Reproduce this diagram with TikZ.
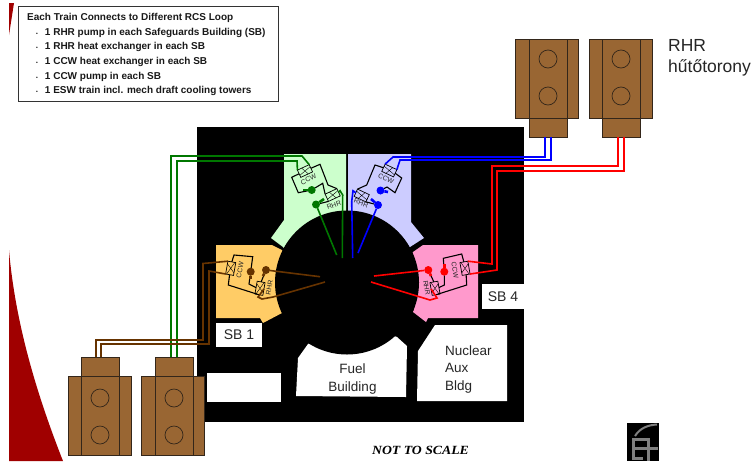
\documentclass[tikz,border=0pt]{standalone}
\usepackage{fontspec}
\setmainfont{Liberation Sans}
\newfontfamily\scalefont{Liberation Serif}
\definecolor{towerbrown}{HTML}{996633}
\definecolor{towerline}{HTML}{33261A}
\definecolor{sbgreen}{HTML}{CCFFCC}
\definecolor{sbblue}{HTML}{CCCCFF}
\definecolor{sborange}{HTML}{FFCC66}
\definecolor{sbpink}{HTML}{FF99CC}
\definecolor{pipegreen}{HTML}{007700}
\definecolor{pipebrown}{HTML}{663300}
\definecolor{stripe}{HTML}{A00000}
\definecolor{logogrey}{HTML}{808080}
\tikzset{
  towerbody/.style={draw=towerline,fill=towerbrown,line width=0.8pt,minimum width=63pt,minimum height=79pt,inner sep=0pt,outer sep=0pt},
  towercore/.style={draw=towerline,fill=towerbrown,line width=0.8pt,minimum width=38pt,minimum height=79pt,inner sep=0pt,outer sep=0pt},
  towerneck/.style={draw=towerline,fill=towerbrown,line width=0.8pt,minimum width=38pt,minimum height=19pt,inner sep=0pt,outer sep=0pt},
  fan/.style={circle,draw=towerline,line width=0.7pt,minimum size=18pt,inner sep=0pt},
  hx/.style={draw=black,line width=0.7pt,minimum width=13pt,minimum height=8pt,inner sep=0pt,outer sep=0pt,
    path picture={\draw[line width=0.4pt] (path picture bounding box.south west) -- (path picture bounding box.north east)
      (path picture bounding box.north west) -- (path picture bounding box.south east);}},
  pump/.style={circle,minimum size=8pt,inner sep=0pt,outer sep=0pt},
  loopline/.style={draw=black,line width=1.1pt},
  pipe/.style={line width=1.6pt},
  tail/.style={line width=2.6pt},
  tag/.style={font=\fontsize{6.8}{7}\selectfont,text=black!85,inner sep=0pt},
  whitelabel/.style={fill=white,inner sep=0pt,text=black!85,font=\fontsize{14}{16}\selectfont},
  buildingtext/.style={inner sep=0pt,text=black!85,font=\fontsize{13.5}{17.5}\selectfont},
}
\begin{document}
\begin{tikzpicture}[x=1pt,y=-1pt]
\useasboundingbox (0,0) rectangle (754,461);
\fill[white] (0,0) rectangle (754,461);
% red corner of the slide
\fill[stripe] (9,3) -- (14,3) -- (9,35) -- cycle;
\fill[stripe] (9,250) .. controls (15,320) and (35,390) .. (63,461) -- (9,461) -- cycle;
% site, buildings, and the containment on top of them
\fill[black] (197,127) rectangle (524,422);
\fill[sbgreen] (284,154) -- (346,154) -- (346,240) -- (290,255) -- (283,247) -- (271,238) -- (284,220) -- cycle;
\fill[sbblue] (348,154) -- (411,154) -- (411,222) -- (424,238) -- (410,247) -- (405,255) -- (348,240) -- cycle;
\fill[sborange] (216,245) -- (272,245) -- (282,250) -- (295,270) -- (295,290) -- (277,298) -- (282,313) -- (263,323) -- (260,318) -- (216,318) -- cycle;
\fill[sbpink] (413,252) -- (423,245) -- (478,245) -- (478,318) -- (428,318) -- (426,322) -- (413,312) -- (417,298) -- (400,290) -- (400,270) -- cycle;
\fill[white] (308,344) -- (298,358) -- (296,396) -- (406,397) -- (407,346) -- (397,337) -- (350,320) -- cycle;
\fill[black] (347,282.5) circle (72pt);
\fill[white] (435,325) -- (507,325) -- (507,401) -- (417,401) -- (418,351) -- cycle;
\node[whitelabel,minimum width=46pt,minimum height=24pt] (sbone) at (239,335) {SB 1};
\node[whitelabel,minimum width=42pt,minimum height=25pt] (sbfour) at (503,296.5) {SB 4};
\node[fill=white,minimum width=74pt,minimum height=29pt,inner sep=0pt] (blank) at (244,387.5) {};
\node[buildingtext,align=center] (fuel) at (352.5,379) {Fuel\\Building};
\node[buildingtext,align=left,anchor=west] (nuclear) at (445,369.5) {Nuclear\\Aux\\Bldg};
% cooling towers
\node[towerbody] (bodyA) at (99.5,415.5) {};
\node[towercore] (coreA) at (100.5,415.5) {};
\node[towerneck] (neckA) at (100.5,366.5) {};
\node[fan] (fanAa) at (100,398) {};
\node[fan] (fanAb) at (100,435) {};
\node[towerbody] (bodyB) at (173,415.5) {};
\node[towercore] (coreB) at (174,415.5) {};
\node[towerneck] (neckB) at (174,366.5) {};
\node[fan] (fanBa) at (174,398) {};
\node[fan] (fanBb) at (174,435) {};
\node[towerbody] (bodyC) at (547,78.5) {};
\node[towercore] (coreC) at (548,78.5) {};
\node[towerneck] (neckC) at (548,127.5) {};
\node[fan] (fanCa) at (548,59) {};
\node[fan] (fanCb) at (548,96) {};
\node[towerbody] (bodyD) at (620.5,78.5) {};
\node[towercore] (coreD) at (621,78.5) {};
\node[towerneck] (neckD) at (621,127.5) {};
\node[fan] (fanDa) at (621,59) {};
\node[fan] (fanDb) at (621,96) {};
% free ends of the pipes inside the containment
\coordinate (endGa) at (336.7,255);
\coordinate (endGb) at (342.3,258);
\coordinate (endUa) at (358,253);
\coordinate (endUb) at (352.7,258);
\coordinate (endBa) at (320,276.7);
\coordinate (endBb) at (325,282);
\coordinate (endRa) at (374,276);
\coordinate (endRb) at (371,282);
% green train
\node[hx,rotate=25] (ccwG) at (305,171) {};
\node[hx,rotate=25] (rhrG) at (332.7,195) {};
\node[pump,fill=pipegreen] (pumpGa) at (311.7,190) {};
\node[pump,fill=pipegreen] (pumpGb) at (316,204.5) {};
\node[tag,rotate=25] (ccwtextG) at (308.5,179.5) {CCW};
\node[tag,rotate=20] (rhrtextG) at (334,205) {RHR};
\draw[loopline] (ccwG.west) -- (291.7,177.3) -- (298.3,192.7) -- (pumpGa);
\draw[loopline] (ccwG.east) -- (320,164.3) -- (328,185) -- (rhrG.north east);
\draw[loopline] (pumpGa) -- (322.7,183.3) -- (rhrG.north west);
\draw[loopline] (pumpGb) -- (rhrG.south west);
\draw[pipegreen,tail] (pumpGa) -- (303,190);
\draw[pipegreen,tail] (pumpGb) -- (324,199);
\draw[pipegreen,pipe] ([xshift=-3pt]neckB.north) -- (171,156) -- (302,156) -- (ccwG.north east);
\draw[pipegreen,pipe] ([xshift=3pt]neckB.north) -- (177,161) -- (297,161) -- (ccwG.north west);
\draw[pipegreen,pipe] (pumpGb) -- (endGa);
\draw[pipegreen,pipe] (rhrG.east) -- (340,190.7) -- (342.7,195) -- (endGb);
% blue train
\node[hx,rotate=-25] (ccwU) at (389.3,170.5) {};
\node[hx,rotate=-25] (rhrU) at (361.7,195.5) {};
\node[pump,fill=blue] (pumpUa) at (380.5,190.5) {};
\node[pump,fill=blue] (pumpUb) at (378,205) {};
\node[tag,rotate=-25] (ccwtextU) at (386,179) {CCW};
\node[tag,rotate=-20] (rhrtextU) at (361,203.3) {RHR};
\draw[loopline] (ccwU.west) -- (375,165) -- (366.7,185) -- (rhrU.north west);
\draw[loopline] (ccwU.east) -- (401.7,178) -- (395,192.7) -- (387,187) -- (pumpUa);
\draw[loopline] (pumpUb) -- (rhrU.south east);
\draw[blue,tail] (pumpUa) -- (388,192);
\draw[blue,tail] (pumpUb) -- (371,199);
\draw[blue,pipe] ([xshift=-3pt]neckC.south) -- (545,157) -- (393,157) -- (ccwU.north west);
\draw[blue,pipe] ([xshift=3pt]neckC.south) -- (551,160) -- (400,160) -- (ccwU.north east);
\draw[blue,pipe] (pumpUb) -- (endUa);
\draw[blue,pipe] (rhrU.west) -- (353,190.7) -- (351.7,201.7) -- (endUb);
% red train
\node[hx,rotate=-80] (ccwR) at (465,268.3) {};
\node[hx,rotate=-80] (rhrR) at (435,288.3) {};
\node[pump,fill=red] (pumpRa) at (444.3,271.7) {};
\node[pump,fill=red] (pumpRb) at (428.3,270) {};
\node[tag,rotate=-80] (ccwtextR) at (455,270) {CCW};
\node[tag,rotate=-80] (rhrtextR) at (426.7,288) {RHR};
\draw[loopline] (ccwR.west) -- (461.7,254) -- (443.3,258.3) -- (pumpRa);
\draw[loopline] (ccwR.east) -- (466.7,285) -- (rhrR.east);
\draw[loopline] (pumpRa) -- (444.3,285) -- (rhrR.north);
\draw[loopline] (pumpRb) -- (rhrR.west);
\draw[red,tail] (pumpRa) -- (444.3,264);
\draw[red,tail] (pumpRb) -- (431,276);
\draw[red,pipe] ([xshift=-3pt]neckD.south) -- (618,166) -- (492,166) -- (492,264) -- (ccwR.north west);
\draw[red,pipe] ([xshift=3pt]neckD.south) -- (624,171) -- (497,171) -- (497,270) -- (ccwR.north east);
\draw[red,pipe] (pumpRb) -- (endRa);
\draw[red,pipe] (rhrR.south) -- (437,298) -- (430,300) -- (endRb);
% brown train
\node[hx,rotate=80] (ccwB) at (230.7,268.3) {};
\node[hx,rotate=80] (rhrB) at (260,288.3) {};
\node[pump,fill=pipebrown] (pumpBa) at (250.7,271.7) {};
\node[pump,fill=pipebrown] (pumpBb) at (266,270) {};
\node[tag,rotate=80] (ccwtextB) at (240,270) {CCW};
\node[tag,rotate=80] (rhrtextB) at (269.3,288) {RHR};
\draw[loopline] (ccwB.east) -- (234,255) -- (252.7,256.7) -- (pumpBa);
\draw[loopline] (ccwB.west) -- (228.3,285) -- (rhrB.west);
\draw[loopline] (pumpBa) -- (249,284) -- (rhrB.north);
\draw[loopline] (pumpBb) -- (rhrB.east);
\draw[pipebrown,tail] (pumpBa) -- (250.7,279);
\draw[pipebrown,tail] (pumpBb) -- (263,276);
\draw[pipebrown,pipe] ([xshift=-4.5pt]neckA.north) -- (96,340) -- (203,340) -- (203,263.5) -- (ccwB.north east);
\draw[pipebrown,pipe] ([xshift=0.5pt]neckA.north) -- (101,344) -- (209,344) -- (209,271) -- (ccwB.north west);
\draw[pipebrown,pipe] (pumpBb) -- (endBa);
\draw[pipebrown,pipe] (rhrB.south) -- (258,297) -- (262,299) -- (273,297) -- (endBb);
% text
\node[draw=black!80,line width=0.9pt,fill=white,anchor=north west,inner sep=0pt,minimum width=260pt,minimum height=95pt] (legend) at (18,6) {};
\node[anchor=west,inner sep=0pt,align=left,font=\fontsize{10}{14.7}\selectfont\bfseries,text=black!90] (legendtext) at (27,54.5) {Each Train Connects to Different RCS Loop\\
  \hspace*{9pt}{\tiny\textbullet}\hspace{7pt}1 RHR pump in each Safeguards Building (SB)\\
  \hspace*{9pt}{\tiny\textbullet}\hspace{7pt}1 RHR heat exchanger in each SB\\
  \hspace*{9pt}{\tiny\textbullet}\hspace{7pt}1 CCW heat exchanger in each SB\\
  \hspace*{9pt}{\tiny\textbullet}\hspace{7pt}1 CCW pump in each SB\\
  \hspace*{9pt}{\tiny\textbullet}\hspace{7pt}1 ESW train incl. mech draft cooling towers};
\node[anchor=west,align=left,inner sep=0pt,text=black!85,font=\fontsize{17.5}{21}\selectfont] (towertext) at (668,57.5) {RHR\\hűtőtorony};
\node[inner sep=0pt,xscale=1.1,font=\scalefont\fontsize{12.5}{14}\selectfont\bfseries\itshape] (notscale) at (420.5,450) {NOT TO SCALE};
% logo
\fill[black] (627,423) rectangle (659,461);
\draw[logogrey,line width=2pt] (635,436) .. controls (640,428) and (648,425) .. (657,424.5);
\draw[logogrey,line width=3pt] (650,439) -- (633,439) -- (633,458) -- (643,458)
  (633,448) -- (658,448) (648,439) -- (648,461);
\end{tikzpicture}
\end{document}
